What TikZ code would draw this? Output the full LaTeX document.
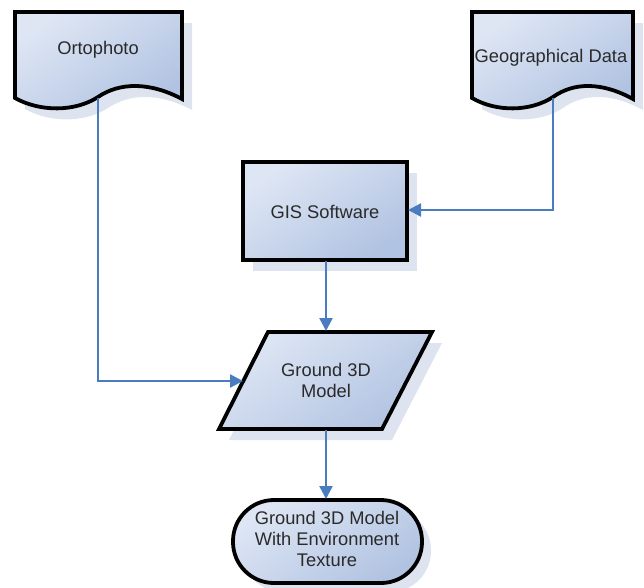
\documentclass[tikz,border=0pt]{standalone}
\usepackage{fontspec}
\setmainfont{Liberation Sans}
\usetikzlibrary{arrows.meta}
\definecolor{fillA}{HTML}{DEE6F4}
\definecolor{fillB}{HTML}{B1C3E2}
\definecolor{shadowc}{HTML}{DDE4EF}
\definecolor{linkc}{HTML}{4A7DC0}
\definecolor{textc}{HTML}{2A2A2A}
\begin{document}
\begin{tikzpicture}[x=1pt,y=-1pt,
  outline/.style={draw=black,line width=3.8pt,line join=miter,top color=fillA,bottom color=fillB,shading angle=35},
  shadowfill/.style={fill=shadowc},
  lbl/.style={font=\fontsize{18.3}{21}\selectfont,text=textc,align=center,inner sep=0pt},
  link/.style={draw=linkc,line width=2.3pt,-{Triangle[length=13pt,width=13pt]}}]
\useasboundingbox (0,0) rectangle (644,587);
% Ortophoto
\fill[shadowfill,shift={(10,11)}] (15,12) -- (182,12) -- (182,99) .. controls (150,82) and (120,82) .. (98,97) .. controls (75,112) and (40,112) .. (15,98) -- cycle;
\shadedraw[outline] (15,12) -- (182,12) -- (182,99) .. controls (150,82) and (120,82) .. (98,97) .. controls (75,112) and (40,112) .. (15,98) -- cycle;
\node[lbl] (ortho) at (98,50) {Ortophoto};
% Geographical Data
\fill[shadowfill,shift={(10,11)}] (472,12) -- (633,12) -- (633,99) .. controls (602,82) and (574,82) .. (553,97) .. controls (530,112) and (496,112) .. (472,98) -- cycle;
\shadedraw[outline] (472,12) -- (633,12) -- (633,99) .. controls (602,82) and (574,82) .. (553,97) .. controls (530,112) and (496,112) .. (472,98) -- cycle;
\node[lbl] (geo) at (551,58) {Geographical Data};
% GIS Software
\fill[shadowfill,shift={(10,11)}] (243,162) rectangle (407,260);
\shadedraw[outline] (243,162) rectangle (407,260);
\node[lbl] (gis) at (325,212) {GIS Software};
% Ground 3D Model
\fill[shadowfill,shift={(10,11)}] (268,332) -- (432,332) -- (382,429) -- (219,429) -- cycle;
\shadedraw[outline] (268,332) -- (432,332) -- (382,429) -- (219,429) -- cycle;
\node[lbl] (ground) at (326,380) {Ground 3D\\Model};
% Final terminal
\fill[shadowfill,shift={(9,9)},rounded corners=41pt] (233,500) rectangle (422,583);
\shadedraw[outline,rounded corners=41pt] (233,500) rectangle (422,583);
\node[lbl] (final) at (327,539) {Ground 3D Model\\With Environment\\Texture};
% connection points
\coordinate (orthoOut) at (98,98);
\coordinate (orthoBend) at (98,381);
\coordinate (groundLeft) at (243,381);
\coordinate (geoOut) at (553,98);
\coordinate (geoBend) at (553,210);
\coordinate (gisRight) at (408,210);
\coordinate (gisBottom) at (326,261);
\coordinate (groundTop) at (326,331);
\coordinate (groundBottom) at (326,430);
\coordinate (finalTop) at (326,499);
% connectors
\draw[link] (orthoOut) -- (orthoBend) -- (groundLeft);
\draw[link] (geoOut) -- (geoBend) -- (gisRight);
\draw[link] (gisBottom) -- (groundTop);
\draw[link] (groundBottom) -- (finalTop);
\end{tikzpicture}
\end{document}
